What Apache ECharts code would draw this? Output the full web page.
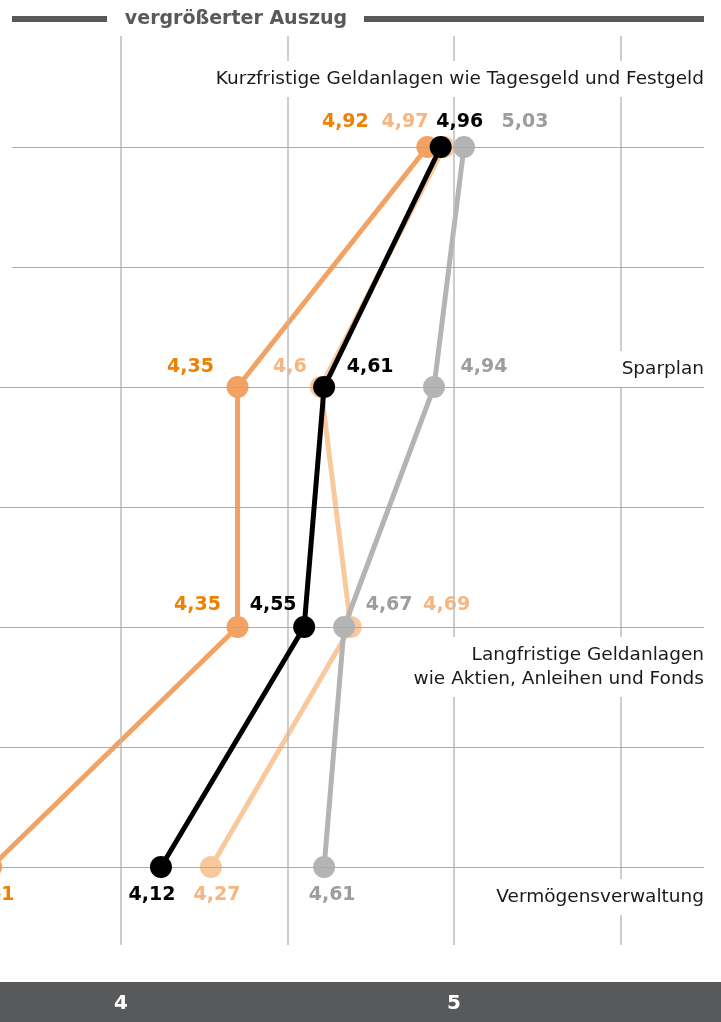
<!DOCTYPE html>
<html>
<head>
<meta charset="utf-8">
<script src="https://cdn.jsdelivr.net/npm/echarts@6/dist/echarts.min.js"></script>
<style>
  html, body { margin: 0; padding: 0; background: #fff; }
  #chart { width: 721px; height: 1022px; }
</style>
</head>
<body>
<div id="chart"></div>
<script>
// Rows of the chart, top to bottom
const categories = [
  'Kurzfristige Geldanlagen wie Tagesgeld und Festgeld',
  'Sparplan',
  'Langfristige Geldanlagen\nwie Aktien, Anleihen und Fonds',
  'Vermögensverwaltung'
];
const rowIndex = [0, 1, 2, 3];

// Average ratings per row, one array per group
const valuesDarkOrange  = [4.92, 4.35, 4.35, 3.61];
const valuesLightOrange = [4.97, 4.6, 4.69, 4.27];
const valuesGray        = [5.03, 4.94, 4.67, 4.61];
const valuesBlack       = [4.96, 4.61, 4.55, 4.12];

// Axis ticks and grid positions (in data units)
const tickLabels = [4, 5];
const verticalGridValues = [4, 4.5, 5, 5.5];
const horizontalGridValues = [0, 0.5, 1, 1.5, 2, 2.5, 3];

// Visible window of the excerpt
const X_MIN = 3.6366, X_MAX = 5.7508;
const Y_MIN = -0.4625, Y_MAX = 3.325;
// the two uppermost rules start slightly indented
const TOP_RULE_START = 3.6726;

// Pixel shifts of each value label relative to its marker
const labelShift = {
  darkOrange:  [[-82, -25], [-47, -20], [-40, -22], [0, 28]],
  lightOrange: [[-39, -25], [-31, -20], [96, -22],  [6, 28]],
  gray:        [[61, -25],  [50, -20],  [45, -22],  [8, 28]],
  black:       [[19, -25],  [46, -20],  [-31, -22], [-9, 28]]
};

const FONT = '"DejaVu Sans", "Noto Sans", sans-serif';

function groupSeries(name, values, color, labelColor, shifts, z) {
  return {
    type: 'line',
    name: name,
    z: z,
    clip: false,
    silent: true,
    animation: false,
    symbol: 'circle',
    symbolSize: 22,
    showAllSymbol: true,
    lineStyle: { color: color, width: 5 },
    itemStyle: { color: color },
    label: {
      show: true,
      position: 'inside',
      color: labelColor,
      fontFamily: FONT,
      fontWeight: 'bold',
      fontSize: 19,
      formatter: p => String(p.value[0]).replace('.', ',')
    },
    data: values.map((v, i) => ({
      value: [v, rowIndex[i]],
      label: { offset: shifts[i] }
    }))
  };
}

const chart = echarts.init(document.getElementById('chart'), null, { renderer: 'canvas' });

const gridLine = { color: '#ababab', width: 1, type: 'solid' };

const option = {
  backgroundColor: '#ffffff',
  animation: false,
  grid: { left: 0, right: 17, top: 36, bottom: 77 },
  xAxis: {
    type: 'value',
    min: X_MIN,
    max: X_MAX,
    position: 'bottom',
    z: 10,
    axisLine: { show: false },
    axisTick: { show: false },
    splitLine: { show: false },
    axisLabel: {
      customValues: tickLabels,
      color: '#ffffff',
      fontFamily: FONT,
      fontWeight: 'bold',
      fontSize: 20,
      margin: 49
    }
  },
  yAxis: {
    type: 'value',
    inverse: true,
    min: Y_MIN,
    max: Y_MAX,
    show: false
  },
  series: [
    {
      type: 'line',
      name: 'grid',
      z: 1,
      silent: true,
      data: [],
      markLine: {
        silent: true,
        animation: false,
        symbol: ['none', 'none'],
        label: { show: false },
        data: [
          ...verticalGridValues.map(v => ({ xAxis: v, lineStyle: { color: '#bcbcbc', width: 1.5, type: 'solid' } })),
          ...horizontalGridValues.map(v => [
            { coord: [v < 1 ? TOP_RULE_START : X_MIN, v], lineStyle: gridLine },
            { coord: [X_MAX, v] }
          ])
        ]
      }
    },
    groupSeries('A', valuesDarkOrange,  '#f2a262', '#ee8200', labelShift.darkOrange, 2),
    groupSeries('B', valuesLightOrange, '#f9c99e', '#f7b57f', labelShift.lightOrange, 3),
    groupSeries('C', valuesGray,        '#b4b4b4', '#9d9d9d', labelShift.gray, 4),
    groupSeries('D', valuesBlack,       '#000000', '#000000', labelShift.black, 5)
  ]
};

chart.setOption(option);

// Row captions placed next to their rows, right aligned to the plot edge
const captionShift = [-68, -18, 40, 30];
const captions = categories.map((text, i) => {
  const p = chart.convertToPixel({ gridIndex: 0 }, [X_MAX, rowIndex[i]]);
  return {
    type: 'text',
    z: 100,
    silent: true,
    style: {
      text: text,
      x: p[0],
      y: p[1] + captionShift[i],
      align: 'right',
      verticalAlign: 'middle',
      fill: '#1a1a1a',
      font: '18.5px ' + FONT,
      lineHeight: 24,
      backgroundColor: '#ffffff',
      padding: [6, 0, 6, 8]
    }
  };
});

chart.setOption({
  graphic: [
    // header banner
    { type: 'rect', z: 50, silent: true, shape: { x: 12, y: 16, width: 95, height: 6 }, style: { fill: '#58595b' } },
    { type: 'rect', z: 50, silent: true, shape: { x: 364, y: 16, width: 340, height: 6 }, style: { fill: '#58595b' } },
    {
      type: 'text', z: 50, silent: true,
      style: {
        text: 'vergrößerter Auszug', x: 236, y: 19, align: 'center', verticalAlign: 'middle',
        fill: '#58595b', font: 'bold 19px ' + FONT
      }
    },
    // footer band behind the axis labels
    { type: 'rect', z: -1, silent: true, shape: { x: 0, y: 982, width: 721, height: 40 }, style: { fill: '#58595b' } },
    ...captions
  ]
});
</script>
</body>
</html>
